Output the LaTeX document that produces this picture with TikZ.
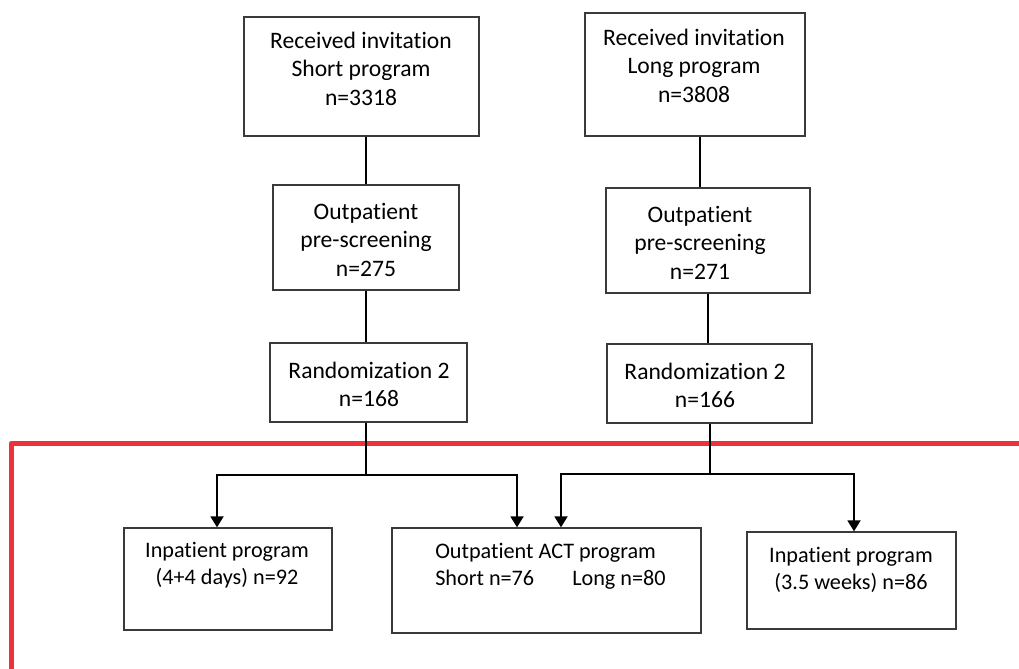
\documentclass[tikz,border=0pt]{standalone}
\usepackage{fontspec}
\setmainfont{Carlito}[Ligatures={NoCommon}]
\usetikzlibrary{arrows.meta}
\definecolor{framered}{HTML}{EE3338}
\definecolor{boxline}{HTML}{3A3A3A}
\begin{document}
\begin{tikzpicture}[x=0.75pt, y=-0.75pt,
  box/.style={draw=boxline, line width=1pt, rectangle, inner sep=0pt},
  bigtxt/.style={anchor=north, inner sep=0pt, align=center,
    font=\fontsize{17.7pt}{21.2pt}\selectfont},
  smalltxt/.style={anchor=north, inner sep=0pt, align=center,
    font=\fontsize{16.65pt}{20pt}\selectfont},
  conn/.style={line width=1.4pt, black},
  arrow/.style={conn, -{Triangle[width=9.75pt, length=8.25pt]}}]

\useasboundingbox (0,0) rectangle (1019,668);

% red frame around the final allocation
\draw[framered, line width=3.75pt, line join=round] (11.5,680) -- (11.5,443) -- (1030,443);

% boxes
\node[box, minimum width=176.25pt, minimum height=89.25pt] (inv1) at (361.5,76.5) {};
\node[box, minimum width=165pt, minimum height=92.25pt] (inv2) at (695,74.5) {};
\node[box, minimum width=139.5pt, minimum height=78.75pt] (pre1) at (366,237.5) {};
\node[box, minimum width=153pt, minimum height=78.75pt] (pre2) at (708,240.5) {};
\node[box, minimum width=147.75pt, minimum height=59.25pt] (rnd1) at (368.5,382.5) {};
\node[box, minimum width=153.75pt, minimum height=59.25pt] (rnd2) at (709.5,383.5) {};
\node[box, minimum width=156pt, minimum height=76.5pt] (inpS) at (228,579) {};
\node[box, minimum width=231.75pt, minimum height=78.75pt] (act) at (546.5,580.5) {};
\node[box, minimum width=156.75pt, minimum height=72.75pt] (inpL) at (851.5,580.5) {};

% box texts
\node[bigtxt] (tinv1) at (361,32) {Received invitation\\Short program\\n=3318};
\node[bigtxt] (tinv2) at (694,29) {Received invitation\\Long program\\n=3808};
\node[bigtxt] (tpre1) at (366,203) {Outpatient\\pre-screening\\n=275};
\node[bigtxt] (tpre2) at (700,206) {Outpatient\\pre-screening\\n=271};
\node[bigtxt] (trnd1) at (369,362) {Randomization 2\\n=168};
\node[bigtxt] (trnd2) at (705,363) {Randomization 2\\n=166};
\node[smalltxt] (tinpS) at (227,542) {Inpatient program\\(4+4 days) n=92};
\node[smalltxt, anchor=north west, align=left] (tact) at (435,543)
  {Outpatient ACT program\\\makebox[102.75pt][l]{Short n=76}Long n=80};
\node[smalltxt] (tinpL) at (851,547) {Inpatient program\\(3.5 weeks) n=86};

% vertical links
\draw[conn] (inv1.south -| pre1.north) -- (pre1.north);
\draw[conn] ([xshift=3.75pt]inv2.south) -- ([xshift=3.75pt]inv2.south |- pre2.north);
\draw[conn] (pre1.south) -- (pre1.south |- rnd1.north);
\draw[conn] (pre2.south) -- (pre2.south |- rnd2.north);

% allocation branches
\coordinate (j1) at (366,475);
\coordinate (j2) at (710,474);
\draw[conn] (rnd1.south -| j1) -- (j1);
\draw[conn] (rnd2.south -| j2) -- (j2);
\draw[arrow] (j1) -| ([xshift=-8.25pt]inpS.north);
\draw[arrow] (j1) -| ([xshift=-22.125pt]act.north);
\draw[arrow] (j2) -| ([xshift=10.875pt]act.north);
\draw[arrow] (j2) -| ([xshift=1.875pt]inpL.north);
\end{tikzpicture}
\end{document}
